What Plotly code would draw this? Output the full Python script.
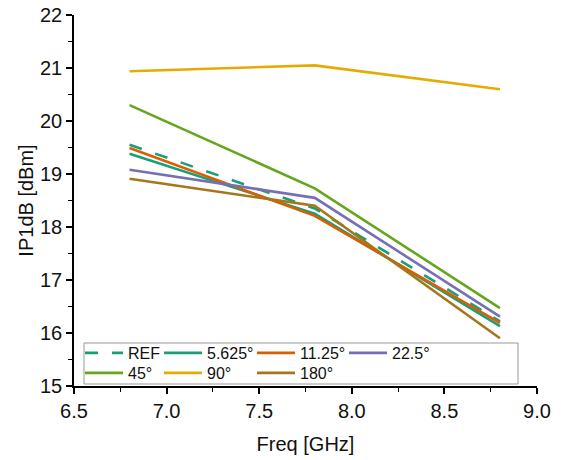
import plotly.graph_objects as go

freq = [6.8, 7.8, 8.8]
names = ["REF", "5.625°", "11.25°", "22.5°", "45°", "90°", "180°"]
ref = [19.55, 18.35, 16.22]
p5625 = [19.38, 18.25, 16.13]
p1125 = [19.49, 18.21, 16.19]
p225 = [19.08, 18.55, 16.31]
p45 = [20.30, 18.73, 16.47]
p90 = [20.94, 21.05, 20.60]
p180 = [18.91, 18.40, 15.90]
series = [ref, p5625, p1125, p225, p45, p90, p180]
colors = ["#1b9e77", "#1b9e77", "#d95f02", "#7570b3", "#66a61e", "#e6ab02", "#a6761d"]
dashes = ["13px,14px", "solid", "solid", "solid", "solid", "solid", "solid"]

FONT = "Liberation Sans, Arial"
TXT = "#111"
fig = go.Figure()
leg_ids = ["legend"] + ["legend%d" % (i + 1) for i in range(1, len(names))]
for n, s, c, d, lg in zip(names, series, colors, dashes, leg_ids):
    fig.add_trace(go.Scatter(x=freq, y=s, name=n, mode="lines", legend=lg, showlegend=True,
                             line=dict(color=c, width=2.6, dash=d)))

axis_common = dict(showline=True, linecolor="black", linewidth=1.5, ticks="outside",
                   ticklen=6, tickwidth=1.5, tickcolor="black", showgrid=False,
                   zeroline=False, mirror=False, automargin=False,
                   tickfont=dict(family=FONT, size=20, color=TXT))
fig.update_xaxes(range=[6.5, 9.0], dtick=0.5, tick0=6.5, tickformat=".1f",
                 minor=dict(dtick=0.25, ticks="outside", ticklen=4, tickwidth=1, tickcolor="black"),
                 title=dict(text="Freq [GHz]", font=dict(family=FONT, size=20, color=TXT), standoff=16),
                 **axis_common)
fig.update_yaxes(range=[15, 22], dtick=1,
                 minor=dict(dtick=0.5, ticks="outside", ticklen=4, tickwidth=1, tickcolor="black"),
                 title=dict(text="IP1dB [dBm]", font=dict(family=FONT, size=20, color=TXT), standoff=1),
                 **axis_common)

pw, ph = 463.0, 371.0
fig.add_shape(type="rect", xref="paper", yref="paper",
              x0=(84 - 74) / pw, x1=(518 - 74) / pw,
              y0=(386 - 384) / ph, y1=(386 - 343) / ph,
              line=dict(color="#999", width=1), fillcolor="rgba(0,0,0,0)", layer="below")

# Origin-style legend grid: 4 columns, 2 rows
col_px = [80, 159, 252, 344]
row_px = [336, 356]
cells = [(0, 0), (1, 0), (2, 0), (3, 0), (0, 1), (1, 1), (2, 1)]
legends = {}
for lg, (ci, ri) in zip(leg_ids, cells):
    legends[lg] = dict(orientation="v", xanchor="left", yanchor="top",
                       x=(col_px[ci] - 74) / pw, y=(386 - row_px[ri]) / ph,
                       bgcolor="rgba(0,0,0,0)", borderwidth=0, itemwidth=38,
                       font=dict(family=FONT, size=16, color=TXT))

fig.update_layout(
    width=564, height=460,
    margin=dict(l=74, r=27, t=15, b=74),
    plot_bgcolor="white", paper_bgcolor="white",
    showlegend=True,
    **legends,
)
fig.write_html("out.html", config={"displayModeBar": False},
               post_script="document.body.style.margin='0';document.body.style.padding='0';")
